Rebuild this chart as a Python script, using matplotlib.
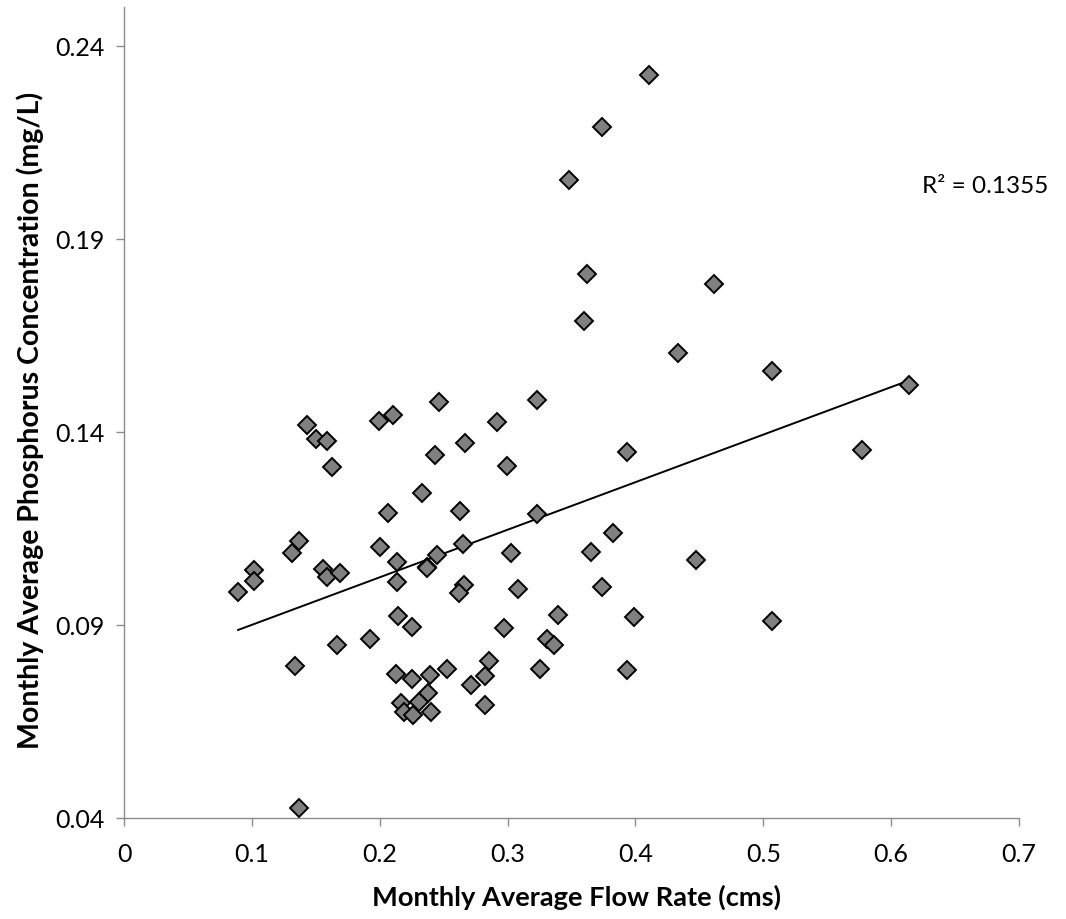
import numpy as np
import matplotlib
matplotlib.use("Agg")
import matplotlib.pyplot as plt

# Monthly average flow rate (cms)
flow = [
    0.4105, 0.3738, 0.3482, 0.3623, 0.3597, 0.4332, 0.2465, 0.3229, 0.4617, 0.5068,
    0.6140, 0.5775, 0.4473, 0.5068, 0.2916, 0.2668, 0.2436, 0.2999, 0.3933, 0.2334,
    0.2629, 0.3229, 0.3821, 0.2655, 0.2447, 0.2373, 0.3028, 0.3652, 0.2663, 0.2619,
    0.3085, 0.3735, 0.2256, 0.3398, 0.3991, 0.2973, 0.3307, 0.3367, 0.2858, 0.2825,
    0.3255, 0.3933, 0.2525, 0.2394, 0.2256, 0.2713, 0.2381, 0.2825, 0.1372, 0.1312,
    0.1017, 0.1017, 0.0892, 0.1560, 0.1591, 0.1690, 0.2003, 0.2134, 0.2134, 0.2368,
    0.2144, 0.1925, 0.1669, 0.1335, 0.2125, 0.2308, 0.2165, 0.2191, 0.2264, 0.2405,
    0.1430, 0.1502, 0.1591, 0.1625, 0.1998, 0.2102, 0.2068, 0.1372,
]

# Monthly average phosphorus concentration (mg/L)
phosphorus = [
    0.2325, 0.2189, 0.2053, 0.1809, 0.1687, 0.1604, 0.1477, 0.1483, 0.1782, 0.1558,
    0.1520, 0.1353, 0.1067, 0.0910, 0.1425, 0.1371, 0.1341, 0.1312, 0.1348, 0.1242,
    0.1195, 0.1188, 0.1137, 0.1110, 0.1080, 0.1050, 0.1087, 0.1090, 0.1003, 0.0983,
    0.0994, 0.0999, 0.0895, 0.0925, 0.0921, 0.0892, 0.0863, 0.0848, 0.0806, 0.0767,
    0.0787, 0.0783, 0.0785, 0.0771, 0.0761, 0.0745, 0.0723, 0.0693, 0.1117, 0.1085,
    0.1042, 0.1013, 0.0985, 0.1045, 0.1024, 0.1035, 0.1102, 0.1063, 0.1012, 0.1048,
    0.0923, 0.0864, 0.0847, 0.0794, 0.0772, 0.0701, 0.0697, 0.0675, 0.0666, 0.0675,
    0.1418, 0.1381, 0.1376, 0.1310, 0.1429, 0.1444, 0.1191, 0.0425,
]

x_ticks = [0, 0.1, 0.2, 0.3, 0.4, 0.5, 0.6, 0.7]
x_tick_labels = ["0", "0.1", "0.2", "0.3", "0.4", "0.5", "0.6", "0.7"]
y_ticks = [0.04, 0.09, 0.14, 0.19, 0.24]
y_tick_labels = ["0.04", "0.09", "0.14", "0.19", "0.24"]
r2_text = "R² = 0.1355"

plt.rcParams["font.family"] = ["Lato", "DejaVu Sans"]

fig = plt.figure(figsize=(10.66, 9.2), dpi=100)
ax = fig.add_axes([124 / 1066, 1 - 819 / 920, (1019 - 124) / 1066, (819 - 8) / 920])

x = np.array(flow)
y = np.array(phosphorus)

# linear trendline over the data range
slope, intercept = np.polyfit(x, y, 1)
xl = np.array([x.min(), x.max()])
ax.plot(xl, slope * xl + intercept, color="black", lw=1.4, zorder=2)

ax.plot(x, y, linestyle="none", marker="D", markersize=9.3,
        markerfacecolor="#808080", markeredgecolor="black",
        markeredgewidth=1.4, zorder=3)

ax.set_xlim(0, 0.7)
ax.set_ylim(0.04, 0.25)
ax.set_xticks(x_ticks)
ax.set_xticklabels(x_tick_labels)
ax.set_yticks(y_ticks)
ax.set_yticklabels(y_tick_labels)

for side in ("top", "right"):
    ax.spines[side].set_visible(False)
for side in ("left", "bottom"):
    ax.spines[side].set_color("#8c8c8c")
    ax.spines[side].set_linewidth(1.0)

ax.tick_params(axis="both", direction="out", length=6, width=1.0,
               color="#8c8c8c", labelsize=18, labelcolor="black")
ax.tick_params(axis="x", pad=11)
ax.tick_params(axis="y", pad=8)

ax.set_xlabel("Monthly Average Flow Rate (cms)", fontsize=19.6, fontweight="bold")
ax.set_ylabel("Monthly Average Phosphorus Concentration (mg/L)", fontsize=20.5,
              fontweight="bold")
ax.xaxis.label.set_va("center")
ax.yaxis.label.set_va("center")
ax.xaxis.set_label_coords(0.506, -0.0962)
ax.yaxis.set_label_coords(-0.105, 0.492)

ax.text(0.6244, 0.2038, r2_text, fontsize=17.5, ha="left", va="center")

fig.savefig("out.png", dpi=100)
